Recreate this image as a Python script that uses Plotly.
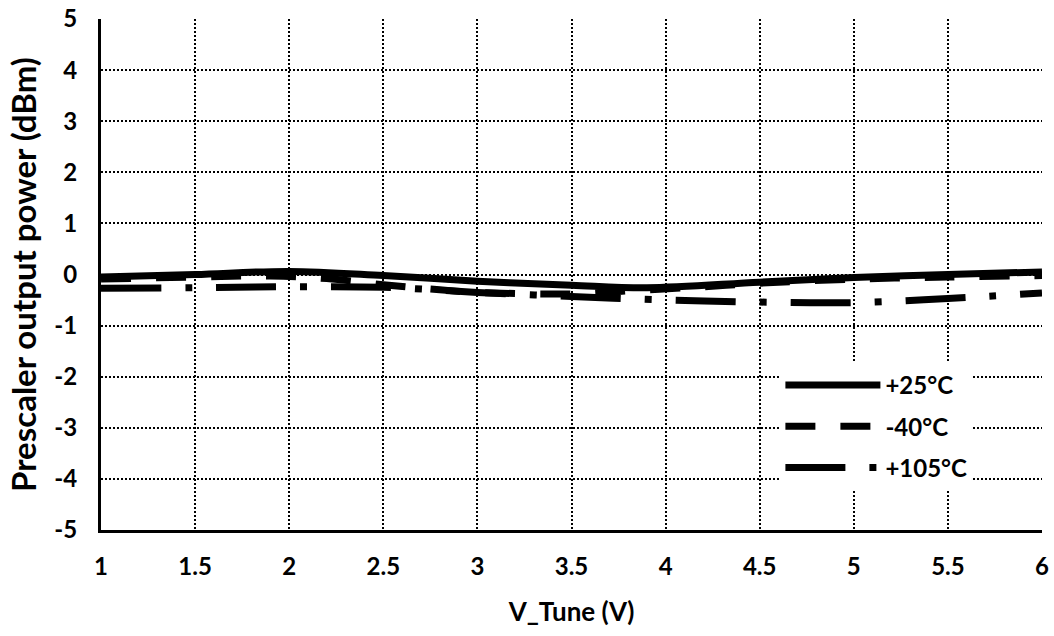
import plotly.graph_objects as go

# Data
v_tune = [1.0, 1.5, 2.0, 2.5, 3.0, 3.5, 3.9, 4.5, 5.0, 5.5, 6.0]
p_25c = [-0.05, 0.0, 0.06, -0.02, -0.13, -0.21, -0.26, -0.15, -0.06, 0.0, 0.05]

v_tune_m40 = [1.0, 1.5, 1.9, 2.2, 2.5, 2.8, 3.0, 3.5, 3.85, 4.2, 4.5, 5.0, 5.5, 6.0]
p_m40c = [-0.09, -0.05, -0.03, -0.08, -0.2, -0.3, -0.35, -0.38, -0.31, -0.24, -0.17, -0.09, -0.05, -0.02]

v_tune_105 = [1.0, 1.5, 2.0, 2.5, 3.0, 3.5, 4.0, 4.5, 5.0, 5.5, 6.0]
p_105c = [-0.27, -0.26, -0.24, -0.25, -0.35, -0.43, -0.5, -0.54, -0.55, -0.47, -0.36]

series = [
    ("+25°C", v_tune, p_25c, "solid"),
    ("-40°C", v_tune_m40, p_m40c, "30px,25px"),
    ("+105°C", v_tune_105, p_105c, "60px,24px,7px,24px"),
]

x_ticks = [1, 1.5, 2, 2.5, 3, 3.5, 4, 4.5, 5, 5.5, 6]
x_ticktext = ["1", "1.5", "2", "2.5", "3", "3.5", "4", "4.5", "5", "5.5", "6"]
y_ticks = [5, 4, 3, 2, 1, 0, -1, -2, -3, -4, -5]
y_ticktext = ["5", "4", "3", "2", "1", "0", "-1", "-2", "-3", "-4", "-5"]

fig = go.Figure()
for i, (name, xs, ys, dash) in enumerate(series):
    fig.add_trace(go.Scatter(
        x=xs, y=ys, name=name, mode="lines", legendgroup=f"g{i}",
        line=dict(color="black", width=7, dash=dash, shape="spline", smoothing=1.0),
    ))

font_family = "Lato, 'Open Sans', sans-serif"
fig.update_layout(
    width=1054, height=636,
    margin=dict(l=101, r=12, t=19, b=106),
    paper_bgcolor="white", plot_bgcolor="white",
    font=dict(family=font_family, size=24, color="black", weight="bold"),
    showlegend=True,
    legend=dict(
        x=0.722, y=0.327, xanchor="left", yanchor="top",
        bgcolor="white", borderwidth=0,
        font=dict(size=24, weight="bold"),
        itemwidth=95, tracegroupgap=7,
    ),
    xaxis=dict(
        range=[1, 6], tickvals=x_ticks, ticktext=x_ticktext,
        showline=True, linecolor="black", linewidth=3,
        showgrid=True, gridcolor="black", gridwidth=2, griddash="2px,2px",
        zeroline=False, ticks="", ticklabelstandoff=13, automargin=False,
        title=dict(text="V_Tune (V)", font=dict(size=26, weight="bold"), standoff=25),
    ),
    yaxis=dict(
        range=[-5, 5], tickvals=y_ticks, ticktext=y_ticktext,
        showline=True, linecolor="black", linewidth=3,
        showgrid=True, gridcolor="black", gridwidth=2, griddash="2px,2px",
        zeroline=False, ticks="", ticklabelstandoff=16, automargin=False,
        title=dict(text="Prescaler output power (dBm)", font=dict(size=33, weight="bold"), standoff=8),
    ),
)

fig.write_html(
    "out.html",
    config={"displayModeBar": False},
    post_script="document.body.style.margin='0';document.body.style.padding='0';",
)
